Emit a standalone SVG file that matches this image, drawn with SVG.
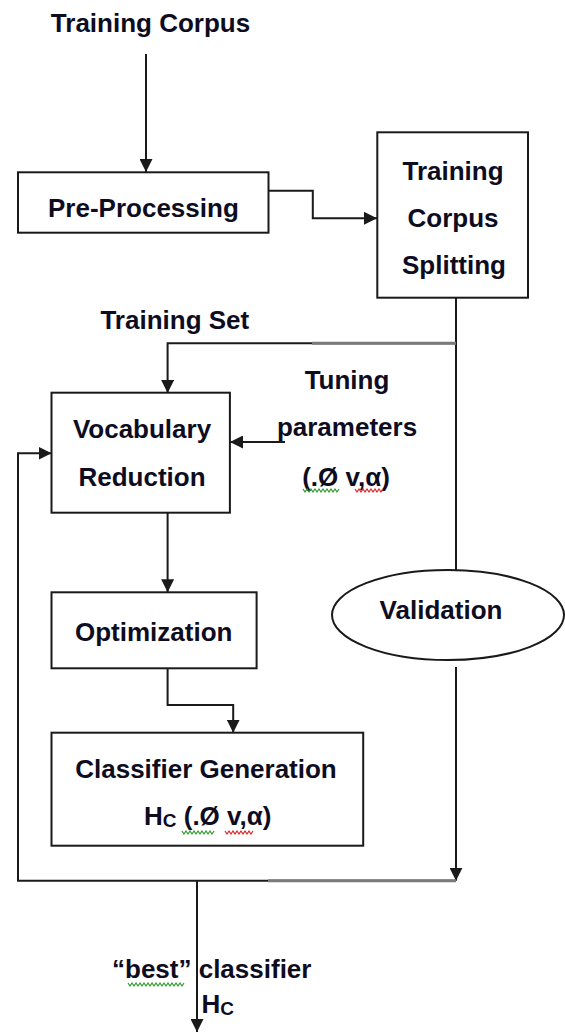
<svg xmlns="http://www.w3.org/2000/svg" width="565" height="1034" viewBox="0 0 565 1034">
<style>
  .box { fill: #ffffff; stroke: #1a1a1a; stroke-width: 2; }
  .ln { fill: none; stroke: #1a1a1a; stroke-width: 2; }
  .gray { fill: none; stroke: #7a7a7a; stroke-width: 3; }
  .t { font-family: "Liberation Sans", Arial, sans-serif; font-weight: bold; font-size: 26px; fill: #0d0d1f; }
  .m { text-anchor: middle; }
  .sqg { fill: none; stroke: #2a9a2a; stroke-width: 1.2; }
  .sqr { fill: none; stroke: #e02020; stroke-width: 1.2; }
</style>
<defs>
  <marker id="arr" markerUnits="userSpaceOnUse" markerWidth="14" markerHeight="13" refX="13" refY="6.5" orient="auto">
    <path d="M0,0 L13,6.5 L0,13 z" fill="#1a1a1a"/>
  </marker>
</defs>
<rect width="565" height="1034" fill="#ffffff"/>

<g id="connectors">
  <path class="ln" d="M146,54 V172" marker-end="url(#arr)"/>
  <path class="ln" d="M268.5,190.7 H312.8 V218.3 H377" marker-end="url(#arr)"/>
  <path class="ln" d="M456,298 V578"/>
  <path class="ln" d="M456,343.3 H167.6 V393" marker-end="url(#arr)"/>
  <path class="gray" d="M312,343.3 H456"/>
  <path class="ln" d="M285,442 H230" marker-end="url(#arr)"/>
  <path class="ln" d="M167.6,512.7 V592.3" marker-end="url(#arr)"/>
  <path class="ln" d="M167.6,668.3 V705 H233.2 V732.7" marker-end="url(#arr)"/>
  <path class="ln" d="M456,667 V880.7" marker-end="url(#arr)"/>
  <path class="ln" d="M456,880.7 H18 V453.3 H51.5" marker-end="url(#arr)"/>
  <path class="gray" d="M268,880.7 H456"/>
  <path class="ln" d="M197,880.7 V1032" marker-end="url(#arr)"/>
</g>

<g id="training-corpus">
  <text class="t m" x="150.5" y="32">Training Corpus</text>
</g>

<g id="pre-processing">
  <rect class="box" x="18" y="172.3" width="250.5" height="60.4"/>
  <text class="t m" x="143.4" y="217">Pre-Processing</text>
</g>

<g id="corpus-splitting">
  <rect class="box" x="377.3" y="132.3" width="150.7" height="165.4"/>
  <text class="t m" x="453" y="180">Training</text>
  <text class="t m" x="453" y="227">Corpus</text>
  <text class="t m" x="454" y="274">Splitting</text>
</g>

<g id="training-set-label">
  <text class="t m" x="174.8" y="329">Training Set</text>
</g>

<g id="tuning-parameters">
  <text class="t m" x="347" y="389">Tuning</text>
  <text class="t m" x="347" y="436">parameters</text>
  <text class="t m" x="346" y="486">(.Ø v,α)</text>
  <polyline class="sqg" points="303,489 305,492 307,489 309,492 311,489 313,492 315,489 317,492 319,489 321,492 323,489 325,492 327,489 329,492 331,489 333,492 335,489 337,492 339,489"/>
  <polyline class="sqr" points="355,489 357,492 359,489 361,492 363,489 365,492 367,489 369,492 371,489 373,492 375,489 377,492 379,489 381,492 383,489"/>
</g>

<g id="vocabulary-reduction">
  <rect class="box" x="51.5" y="392.7" width="178.4" height="120"/>
  <text class="t m" x="142" y="438">Vocabulary</text>
  <text class="t m" x="142" y="486">Reduction</text>
</g>

<g id="optimization">
  <rect class="box" x="51.5" y="592.3" width="205.1" height="76"/>
  <text class="t m" x="153.7" y="641">Optimization</text>
</g>

<g id="validation">
  <ellipse class="box" cx="448" cy="615" rx="116" ry="45"/>
  <text class="t m" x="441" y="619">Validation</text>
</g>

<g id="classifier-generation">
  <rect class="box" x="51.5" y="732.7" width="311.7" height="113"/>
  <text class="t m" x="206" y="778">Classifier Generation</text>
  <text class="t" x="144" y="825">H<tspan font-size="19" dy="2">C</tspan><tspan dy="-2"> (.Ø v,α)</tspan></text>
  <polyline class="sqg" points="182,831 184,834 186,831 188,834 190,831 192,834 194,831 196,834 198,831 200,834 202,831 204,834 206,831 208,834 210,831 212,834 214,831"/>
  <polyline class="sqr" points="225,831 227,834 229,831 231,834 233,831 235,834 237,831 239,834 241,831 243,834 245,831 247,834 249,831 251,834 253,831"/>
</g>

<g id="best-classifier">
  <text class="t" x="112" y="978">“best” classifier</text>
  <text class="t" x="201.5" y="1013">H<tspan font-size="19" dy="2">C</tspan></text>
  <polyline class="sqg" points="128,983 130,986 132,983 134,986 136,983 138,986 140,983 142,986 144,983 146,986 148,983 150,986 152,983 154,986 156,983 158,986 160,983 162,986 164,983 166,986 168,983 170,986 172,983 174,986 176,983 178,986 180,983 182,986 184,983"/>
</g>
</svg>
